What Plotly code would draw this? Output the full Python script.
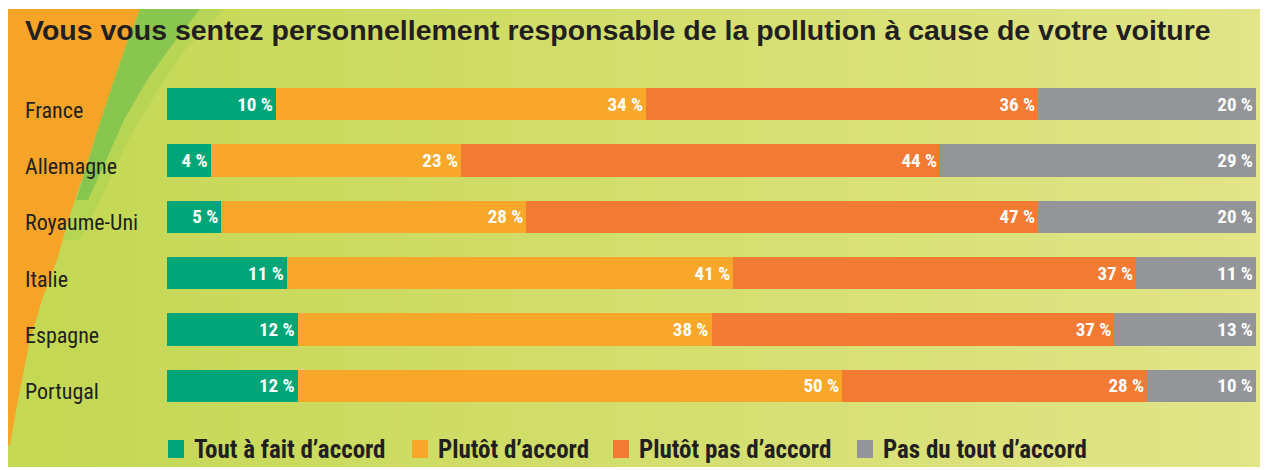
import plotly.graph_objects as go
import numpy as np

# ---------------- data ----------------
countries = ["France", "Allemagne", "Royaume-Uni", "Italie", "Espagne", "Portugal"]
series_names = ["Tout à fait d’accord", "Plutôt d’accord", "Plutôt pas d’accord", "Pas du tout d’accord"]
tout_a_fait = [10, 4, 5, 11, 12, 12]
plutot = [34, 23, 28, 41, 38, 50]
plutot_pas = [36, 44, 47, 37, 37, 28]
pas_du_tout = [20, 29, 20, 11, 13, 10]
title_text = "Vous vous sentez personnellement responsable de la pollution à cause de votre voiture"

series_values = [tout_a_fait, plutot, plutot_pas, pas_du_tout]
colors = ["#00a678", "#f9a72b", "#f37a33", "#939598"]

# page has an 8px body margin -> figure is drawn offset by 8px
OFF = 8
W, H = 1268 - OFF, 470 - OFF
ML, MR, MT, MB = 167 - OFF, 12, 76 - OFF, 56
PW = W - ML - MR
PH = H - MT - MB

def px2x(px):  # reference-picture pixel -> paper x
    return (px - OFF - ML) / PW

def px2y(py):
    return (H - MB - (py - OFF)) / PH

NARROW = "Liberation Sans Narrow, Arial Narrow, Roboto Condensed, Liberation Sans, sans-serif"
DARK = "#231f20"

fig = go.Figure()
for name, vals, col in zip(series_names, series_values, colors):
    fig.add_trace(go.Bar(
        y=countries, x=vals, name=name, orientation="h",
        marker=dict(color=col, line=dict(width=0)),
        text=[f"{v} %" for v in vals],
        textposition="inside", insidetextanchor="end",
        textfont=dict(family=NARROW, size=19, color="white", weight=700),
        width=0.57, showlegend=False, hoverinfo="x+y+name",
    ))

shapes = []
# background gradient strips
n = 60
x0s = np.linspace(8, 1268, n + 1)
c0 = np.array([0xc4, 0xd8, 0x53])
c1 = np.array([0xe2, 0xe5, 0x88])
for i in range(n):
    t = i / (n - 1)
    c = (c0 * (1 - t) + c1 * t).astype(int)
    shapes.append(dict(type="rect", xref="paper", yref="paper",
                       x0=px2x(x0s[i]), x1=px2x(x0s[i + 1] + 1), y0=px2y(467), y1=px2y(9),
                       fillcolor=f"rgb({c[0]},{c[1]},{c[2]})", line=dict(width=0), layer="below"))

def path(points):
    return "M " + " L ".join(f"{px2x(a):.5f},{px2y(b):.5f}" for a, b in points) + " Z"

edge = [(140, 9), (126, 45), (114, 80), (99, 125), (85, 170), (70, 215), (57, 260),
        (42, 300), (30, 340), (18, 400), (10, 445)]
# soft green band
green_outer = [(225, 9), (185, 50), (155, 95), (128, 140), (105, 190), (80, 240)]
shapes.append(dict(type="path", xref="paper", yref="paper",
                   path=path(green_outer + [(63, 240), (78, 190), (92, 140), (110, 90), (126, 45), (140, 9)]),
                   fillcolor="rgba(150,205,80,0.3)", line=dict(width=0), layer="below"))
# vivid green band
green_inner = [(200, 9), (172, 45), (147, 80), (124, 120), (104, 165), (88, 200)]
shapes.append(dict(type="path", xref="paper", yref="paper",
                   path=path(green_inner + [(76, 200), (87, 165), (99, 125), (114, 80), (126, 45), (140, 9)]),
                   fillcolor="rgba(110,190,75,0.65)", line=dict(width=0), layer="below"))
# orange swoosh
shapes.append(dict(type="path", xref="paper", yref="paper",
                   path=path([(8, 9)] + edge + [(8, 445)]),
                   fillcolor="#f6a428", line=dict(width=0), layer="below"))

annotations = []
# title
annotations.append(dict(text=title_text, xref="paper", yref="paper", x=px2x(23), y=px2y(30),
                        xanchor="left", yanchor="middle", showarrow=False,
                        font=dict(family="Liberation Sans, Arial, sans-serif", size=28.5, color=DARK, weight=700)))
# category labels
for c in countries:
    annotations.append(dict(text=c, xref="paper", yref="y", x=px2x(23), y=c, yshift=-6,
                            xanchor="left", yanchor="middle", showarrow=False,
                            font=dict(family=NARROW, size=22, color=DARK)))
# legend (manual)
leg_x = [168, 412, 613, 857]
for name, col, lx in zip(series_names, colors, leg_x):
    shapes.append(dict(type="rect", xref="paper", yref="paper",
                       x0=px2x(lx), x1=px2x(lx + 16), y0=px2y(458), y1=px2y(440),
                       fillcolor=col, line=dict(width=0)))
    annotations.append(dict(text=name, xref="paper", yref="paper", x=px2x(lx + 24), y=px2y(449),
                            xanchor="left", yanchor="middle", showarrow=False,
                            font=dict(family=NARROW, size=25, color=DARK, weight=700)))

fig.update_layout(
    width=W, height=H,
    margin=dict(l=ML, r=MR, t=MT, b=MB, pad=0),
    barmode="stack", bargap=0.43,
    paper_bgcolor="white", plot_bgcolor="rgba(0,0,0,0)",
    xaxis=dict(range=[0, 100], visible=False, fixedrange=True),
    yaxis=dict(categoryorder="array", categoryarray=countries, autorange="reversed",
               visible=False),
    shapes=shapes, annotations=annotations,
    showlegend=False,
)

fig.write_html("out.html")
